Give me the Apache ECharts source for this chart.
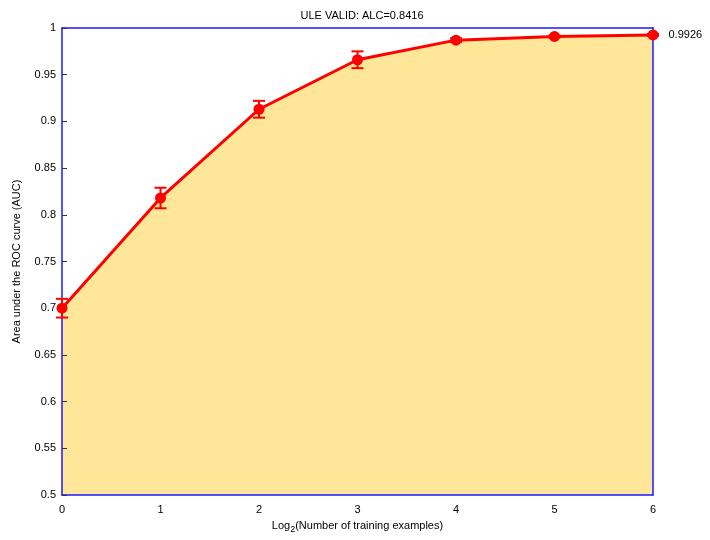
<!DOCTYPE html>
<html><head><meta charset="utf-8">
<script src="https://cdn.jsdelivr.net/npm/echarts@6/dist/echarts.min.js"></script>
<style>html,body{margin:0;padding:0;background:#fff}#c{width:710px;height:540px}</style>
</head><body><div id="c"></div>
<script>
const xValues = [0, 1, 2, 3, 4, 5, 6];
const aucValues = [0.700, 0.818, 0.913, 0.966, 0.987, 0.991, 0.9926];
const errValues = [0.010, 0.011, 0.009, 0.009, 0.002, 0.001, 0.001];
const yTicks = [0.5, 0.55, 0.6, 0.65, 0.7, 0.75, 0.8, 0.85, 0.9, 0.95, 1];
const titleText = 'ULE VALID: ALC=0.8416';
const lastLabel = '0.9926';

const font = 'Liberation Sans, Arial, Helvetica, sans-serif';
const blue = '#1a1aff';
const chart = echarts.init(document.getElementById('c'));
const areaData = xValues.map((x, i) => [x, aucValues[i]]);
const lineData = xValues.map((x, i) => {
  const d = {value: [x, aucValues[i]]};
  if (i === xValues.length - 1) {
    d.label = {show: true, position: 'right', distance: 10, formatter: lastLabel,
      color: '#000', fontSize: 11, fontFamily: font};
  }
  return d;
});
const errData = xValues.map((x, i) => [x, aucValues[i] - errValues[i], aucValues[i] + errValues[i]]);
const boxLine = {show: true, onZero: false, lineStyle: {color: blue, width: 1.5}};

chart.setOption({
  animation: false,
  backgroundColor: '#fff',
  title: {text: titleText, left: 357, top: 5, textAlign: 'center',
    textStyle: {fontSize: 11, fontWeight: 'normal', color: '#000', fontFamily: font}},
  grid: {left: 62, right: 57, top: 28, bottom: 45},
  xAxis: [{type: 'value', min: 0, max: 6, interval: 1, position: 'bottom', z: 10,
    axisLine: boxLine, axisTick: {show: false}, splitLine: {show: false},
    axisLabel: {color: '#000', fontSize: 11, fontFamily: font, margin: 9},
    name: 'Log{sub|2}(Number of training examples)', nameLocation: 'middle', nameGap: 25,
    nameTextStyle: {color: '#000', fontSize: 11, fontFamily: font,
      rich: {sub: {fontSize: 9, verticalAlign: 'bottom', padding: [0,0,-3,0], fontFamily: font, color: '#000'}}}},
    {type: 'value', min: 0, max: 6, interval: 1, position: 'top', z: 10,
    axisLine: boxLine, axisTick: {show: false}, splitLine: {show: false}, axisLabel: {show: false}}],
  yAxis: [{type: 'value', min: 0.5, max: 1, interval: 0.05, position: 'left', z: 10,
    axisLine: boxLine, splitLine: {show: false},
    axisTick: {show: true, inside: true, length: 5, lineStyle: {color: '#333'}},
    axisLabel: {color: '#000', fontSize: 11, fontFamily: font, margin: 6,
      formatter: v => { const t = yTicks.find(k => Math.abs(k - v) < 1e-9); return t === undefined ? '' : String(t); }},
    name: 'Area under the ROC curve (AUC)', nameLocation: 'middle', nameGap: 40, nameRotate: 90,
    nameTextStyle: {color: '#000', fontSize: 11, fontFamily: font}},
    {type: 'value', min: 0.5, max: 1, interval: 0.05, position: 'right', z: 10,
    axisLine: boxLine, splitLine: {show: false}, axisTick: {show: false}, axisLabel: {show: false}}],
  series: [
    {type: 'line', data: areaData, symbol: 'none', z: 1,
      lineStyle: {width: 0},
      areaStyle: {color: '#ffe699', opacity: 1, origin: 'start'}},
    {type: 'line', data: lineData, symbol: 'circle', symbolSize: 11, z: 20,
      lineStyle: {color: '#ff0000', width: 3},
      itemStyle: {color: '#ff0000'}},
    {type: 'custom', data: errData, z: 21,
      renderItem: (params, api) => {
        const x = api.value(0);
        const lo = api.coord([x, api.value(1)]);
        const hi = api.coord([x, api.value(2)]);
        const w = 6;
        const st = {stroke: '#ff0000', lineWidth: 2};
        return {type: 'group', children: [
          {type: 'line', shape: {x1: lo[0], y1: lo[1], x2: hi[0], y2: hi[1]}, style: st},
          {type: 'line', shape: {x1: lo[0] - w, y1: lo[1], x2: lo[0] + w, y2: lo[1]}, style: st},
          {type: 'line', shape: {x1: hi[0] - w, y1: hi[1], x2: hi[0] + w, y2: hi[1]}, style: st}
        ]};
      }}
  ]
});
</script></body></html>
